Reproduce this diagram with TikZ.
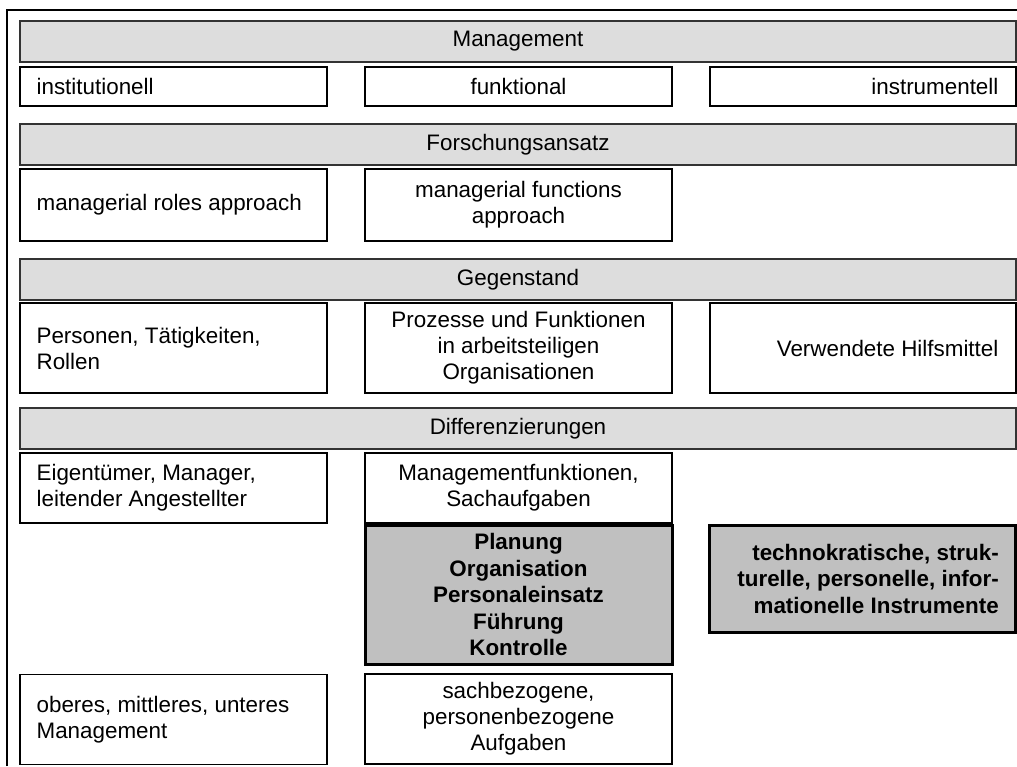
\documentclass[tikz,border=0pt]{standalone}
\usepackage{fontspec}
\setmainfont{Liberation Sans}
\definecolor{hdrgray}{HTML}{DDDDDD}
\definecolor{boxgray}{HTML}{C0C0C0}
\begin{document}
\begin{tikzpicture}[x=1pt,y=-1pt,
  every node/.style={font=\fontsize{22.4}{26}\selectfont},
  hdr/.style={draw=black!80, fill=hdrgray, line width=1.3pt, minimum width=996pt, minimum height=41pt, inner sep=0pt},
  cell/.style={draw=black, fill=white, line width=1.2pt, inner sep=0pt, align=center},
  strongbox/.style={draw=black, fill=boxgray, line width=3pt, inner sep=0pt, align=center, font=\fontsize{22.4}{26.5}\selectfont\bfseries},
  txt/.style={inner sep=0pt},
  w1/.style={minimum width=307pt},
  w3/.style={minimum width=306pt}]
\useasboundingbox (0,0) rectangle (1017,766);
\draw[line width=2pt] (7.2,766) -- (7.2,10.3) -- (1017,10.3);

% Management
\node[hdr] (h1) at (518,41.5) {Management};
\node[cell,w1,minimum height=39pt] (r1a) at (173.5,86.5) {};
\node[txt,anchor=west,align=left] (t1a) at ([xshift=17pt]r1a.west) {institutionell};
\node[cell,w1,minimum height=39pt] (r1b) at (518.5,86.5) {funktional};
\node[cell,w3,minimum height=39pt] (r1c) at (863,86.5) {};
\node[txt,anchor=east,align=right] (t1c) at ([xshift=-18pt]r1c.east) {instrumentell};

% Forschungsansatz
\node[hdr] (h2) at (518,144.5) {Forschungsansatz};
\node[cell,w1,minimum height=72pt] (r2a) at (173.5,205) {};
\node[txt,anchor=west,align=left] (t2a) at ([xshift=17pt]r2a.west) {managerial roles approach};
\node[cell,w1,minimum height=72pt] (r2b) at (518.5,205) {managerial functions\\approach};

% Gegenstand
\node[hdr] (h3) at (518,279.5) {Gegenstand};
\node[cell,w1,minimum height=90pt] (r3a) at (173.5,348) {};
\node[txt,anchor=west,align=left] (t3a) at ([xshift=17pt]r3a.west) {Personen, Tätigkeiten,\\Rollen};
\node[cell,w1,minimum height=90pt] (r3b) at (518.5,348) {Prozesse und Funktionen\\in arbeitsteiligen\\Organisationen};
\node[cell,w3,minimum height=90pt] (r3c) at (863,348) {};
\node[txt,anchor=east,align=right] (t3c) at ([xshift=-18pt]r3c.east) {Verwendete Hilfsmittel};

% Differenzierungen
\node[hdr] (h4) at (518,428.5) {Differenzierungen};
\node[cell,w1,minimum height=70pt] (r4a) at (173.5,488) {};
\node[txt,anchor=west,align=left] (t4a) at ([xshift=17pt]r4a.west) {Eigentümer, Manager,\\leitender Angestellter};
\node[cell,w1,minimum height=70pt] (r4b) at (518.5,488) {Managementfunktionen,\\Sachaufgaben};

\node[strongbox,w1,minimum height=139pt] (pl) at (518.5,594.5) {Planung\\Organisation\\Personaleinsatz\\Führung\\Kontrolle};
\node[strongbox,w3,minimum height=107pt] (tk) at (862.5,578.5) {};
\node[txt,anchor=east,align=right,font=\fontsize{22.4}{26.5}\selectfont\bfseries] (ttk) at ([xshift=-18pt]tk.east) {technokratische, struk-\\turelle, personelle, infor-\\mationelle Instrumente};

\node[cell,w1,minimum height=90pt] (r5a) at (173.5,719.5) {};
\node[txt,anchor=west,align=left] (t5a) at ([xshift=17pt]r5a.west) {oberes, mittleres, unteres\\Management};
\node[cell,w1,minimum height=90pt] (r5b) at (518.5,719) {sachbezogene,\\personenbezogene\\Aufgaben};
\end{tikzpicture}
\end{document}
